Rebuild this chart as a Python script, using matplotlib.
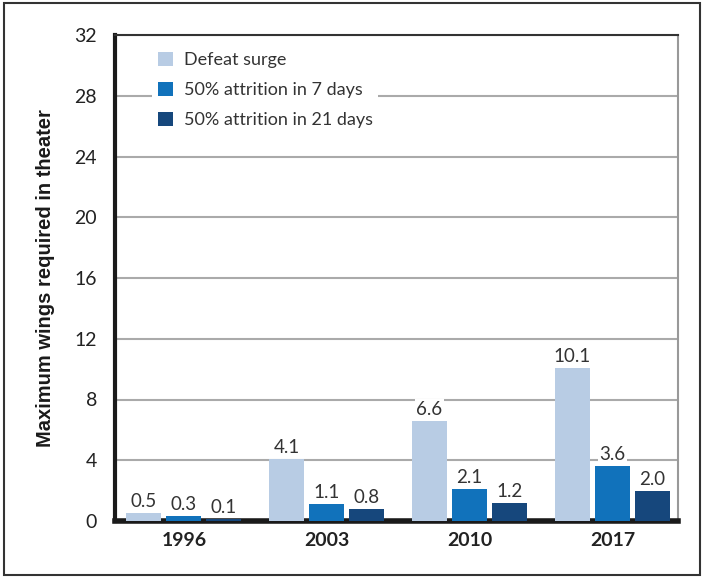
import matplotlib
matplotlib.use("Agg")
import matplotlib.pyplot as plt
import numpy as np
from matplotlib.patches import Rectangle

years = ["1996", "2003", "2010", "2017"]
series_names = ["Defeat surge", "50% attrition in 7 days", "50% attrition in 21 days"]
defeat_surge = [0.5, 4.1, 6.6, 10.1]
attr_7 = [0.3, 1.1, 2.1, 3.6]
attr_21 = [0.1, 0.8, 1.2, 2.0]
yticks = [0, 4, 8, 12, 16, 20, 24, 28, 32]
colors = ["#b8cce4", "#1172bb", "#16477c"]

plt.rcParams['font.family'] = ['Lato', 'DejaVu Sans']

fig = plt.figure(figsize=(7.02, 5.78), dpi=100)
ax = fig.add_axes([115/702, 57/578, (678-115)/702, (521-35)/578])

x = np.arange(len(years))
width = 0.245
step = 0.28
for i, (vals, name, c) in enumerate(zip([defeat_surge, attr_7, attr_21], series_names, colors)):
    pos = x + (i - 1) * step
    ax.bar(pos, vals, width, color=c, label=name, zorder=3)
    for px, v in zip(pos, vals):
        ax.text(px, v + 0.2, f"{v:.1f}", ha="center", va="bottom", fontsize=13.5,
                color="#333333", zorder=4,
                bbox=dict(facecolor="white", edgecolor="none", pad=1.0))

ax.set_xlim(-0.483, 3.46)
ax.set_ylim(0, 32)
ax.set_yticks(yticks)
ax.set_yticklabels([str(t) for t in yticks], fontsize=14, color="#222222")
ax.set_xticks(x)
ax.set_xticklabels(years, fontsize=14, fontweight="bold", color="#222222")
ax.tick_params(axis="both", length=0, pad=8)
ax.tick_params(axis="y", pad=13)
ax.yaxis.grid(True, color="#aaaaaa", lw=1.5, zorder=0)
ax.set_axisbelow(True)

ax.spines["left"].set_linewidth(3)
ax.spines["left"].set_color("#1a1a1a")
ax.spines["bottom"].set_linewidth(4)
ax.spines["bottom"].set_color("#1a1a1a")
ax.spines["top"].set_linewidth(1.5)
ax.spines["top"].set_color("#333333")
ax.spines["right"].set_linewidth(1.5)
ax.spines["right"].set_color("#999999")

ax.set_ylabel("Maximum wings required in theater", fontsize=14.5, fontweight="bold",
              family=["Liberation Sans", "DejaVu Sans"], labelpad=14, color="#1a1a1a")

leg = ax.legend(loc="upper left", bbox_to_anchor=(0.05, 0.995), frameon=True,
                fontsize=13, handlelength=0.85, handleheight=0.85, handletextpad=0.6,
                labelspacing=0.75, borderpad=0.3, fancybox=False)
leg.get_frame().set_facecolor("white")
leg.get_frame().set_edgecolor("none")
leg.get_frame().set_alpha(1.0)
for t in leg.get_texts():
    t.set_color("#333333")

fig.patches.append(Rectangle((4/702, 3/578), 696/702, 572/578, transform=fig.transFigure,
                             fill=False, edgecolor="#333333", lw=1.5))

fig.savefig("out.png", dpi=100)
